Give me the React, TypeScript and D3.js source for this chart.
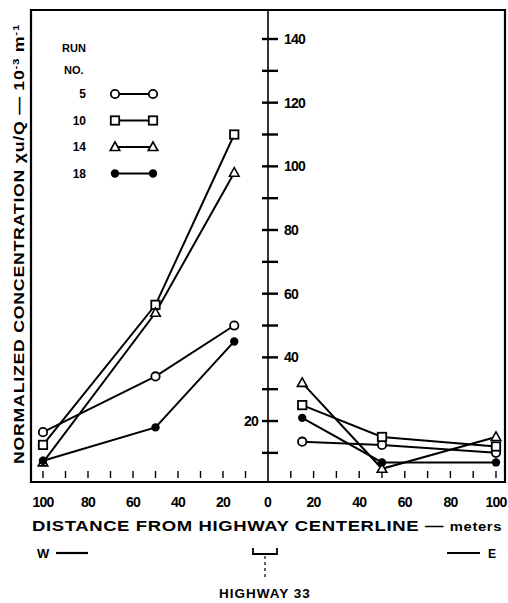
import * as d3 from "d3";

// distances from centerline (m) at which samples were taken
const westDistances = [100, 50, 15];
const eastDistances = [15, 50, 100];

// west side (left half), ordered as westDistances
const west5 = [16.5, 34, 50];
const west10 = [12.5, 56.5, 110];
const west14 = [7, 54, 98];
const west18 = [7.5, 18, 45];

// east side (right half), ordered as eastDistances
const east5 = [13.5, 12.5, 10];
const east10 = [25, 15, 12];
const east14 = [32, 5, 15];
const east18 = [21, 7, 7];

const runNames = ["5", "10", "14", "18"];
const markerKinds = ["circle", "square", "triangle", "dot"];

const xTickLabels = [100, 80, 60, 40, 20];
const xMinorTicks = [10, 20, 30, 40, 50, 60, 70, 80, 90, 100];
const yMajorTicks = [20, 40, 60, 80, 100, 120, 140];
const yMinorTicks = [10, 30, 50, 70, 90, 110, 130];

const W = 508;
const H = 603;
const frameLeft = 31;
const frameRight = 505;
const frameTop = 10;
const frameBottom = 482;
const center = 268;

const FONT = "'Liberation Sans', Arial, sans-serif";

function Marker({ kind, x, y }: { kind: string; x: number; y: number }) {
    if (kind === "circle") {
        return <circle cx={x} cy={y} r={4.2} fill="white" stroke="black" strokeWidth={1.8} />;
    }
    if (kind === "square") {
        return <rect x={x - 4.2} y={y - 4.2} width={8.4} height={8.4} fill="white" stroke="black" strokeWidth={1.8} />;
    }
    if (kind === "triangle") {
        return (
            <path
                d={`M${x},${y - 5} L${x + 4.8},${y + 3.5} L${x - 4.8},${y + 3.5} Z`}
                fill="white"
                stroke="black"
                strokeWidth={1.6}
            />
        );
    }
    return <circle cx={x} cy={y} r={4.2} fill="black" />;
}

export default function App() {
    const xWest = d3.scaleLinear([0, 100], [center, 43]);
    const xEast = d3.scaleLinear([0, 100], [center, 496]);
    const y = d3.scaleLinear([0, 140], [484.7, 39]);

    const westSeries = [west5, west10, west14, west18];
    const eastSeries = [east5, east10, east14, east18];

    const lineWest = d3.line<number>((_, i) => xWest(westDistances[i]), (d) => y(d));
    const lineEast = d3.line<number>((_, i) => xEast(eastDistances[i]), (d) => y(d));

    return (
        <svg
            width={W}
            height={H}
            style={{ position: "absolute", left: 0, top: 0, background: "white" }}
            fontFamily={FONT}
        >
            {/* frame */}
            <path
                d={`M${frameLeft},${frameBottom} L${frameLeft},${frameTop} L${frameRight},${frameTop} L${frameRight},${frameBottom} Z`}
                fill="none"
                stroke="black"
                strokeWidth={2.2}
            />

            {/* center axis */}
            <line x1={center} x2={center} y1={frameTop} y2={frameBottom} stroke="black" strokeWidth={1.6} />
            {yMajorTicks.concat(yMinorTicks).map((t) => (
                <line key={"t" + t} x1={center - 6} x2={center + 10} y1={y(t)} y2={y(t)} stroke="black" strokeWidth={2.4} />
            ))}
            {yMajorTicks.map((t) => (
                <text
                    key={"yl" + t}
                    x={t === 20 ? center - 10 : center + 16}
                    y={y(t)}
                    dy="0.36em"
                    textAnchor={t === 20 ? "end" : "start"}
                    fontSize={14}
                    fontWeight="bold"
                    letterSpacing={-0.8}
                >
                    {t}
                </text>
            ))}

            {/* bottom ticks */}
            {xMinorTicks.map((t) => (
                <g key={"xt" + t}>
                    <line x1={xWest(t)} x2={xWest(t)} y1={471} y2={478} stroke="black" strokeWidth={1.4} />
                    <line x1={xEast(t)} x2={xEast(t)} y1={471} y2={478} stroke="black" strokeWidth={1.4} />
                </g>
            ))}

            {/* bottom tick labels */}
            {xTickLabels.map((t) => (
                <g key={"xl" + t} fontSize={14} fontWeight="bold" textAnchor="middle" letterSpacing={-0.8}>
                    <text x={xWest(t)} y={507}>{t}</text>
                    <text x={xEast(t)} y={507}>{t}</text>
                </g>
            ))}
            <text x={center} y={507} fontSize={14} fontWeight="bold" textAnchor="middle">0</text>

            {/* x title */}
            <text x={32} y={531} fontSize={15} fontWeight="bold" textLength={470} lengthAdjust="spacingAndGlyphs" letterSpacing={0.5}>
                DISTANCE FROM HIGHWAY CENTERLINE — <tspan fontSize={12}>meters</tspan>
            </text>

            {/* W / E arrows */}
            <text x={37} y={558} fontSize={13} fontWeight="bold">W</text>
            <line x1={56} x2={88} y1={553} y2={553} stroke="black" strokeWidth={2.2} />
            <line x1={447} x2={480} y1={553} y2={553} stroke="black" strokeWidth={2.2} />
            <text x={488} y={558} fontSize={12} fontWeight="bold">E</text>

            {/* highway bracket */}
            <path d={`M${center - 15},548 L${center - 15},554 L${center + 9},554 L${center + 9},548`} fill="none" stroke="black" strokeWidth={1.8} />
            <line x1={center - 3} x2={center - 3} y1={556} y2={577} stroke="black" strokeWidth={1.2} strokeDasharray="3,3" />
            <text x={center - 3} y={598} fontSize={13.5} fontWeight="bold" textAnchor="middle" letterSpacing={1}>
                HIGHWAY 33
            </text>

            {/* y title */}
            <text
                transform={`translate(24,244) rotate(-90)`}
                textAnchor="middle"
                fontSize={14}
                fontWeight="bold"
                textLength={440}
                lengthAdjust="spacingAndGlyphs"
                letterSpacing={0.6}
            >
                NORMALIZED CONCENTRATION  χu/Q  —  10<tspan fontSize={9} dy={-5}>-3</tspan>
                <tspan dy={5}> m</tspan>
                <tspan fontSize={9} dy={-5}>-1</tspan>
            </text>

            {/* legend */}
            <g fontSize={11} fontWeight="bold">
                <text x={62} y={52}>RUN</text>
                <text x={64} y={74}>NO.</text>
            </g>
            {runNames.map((r, i) => {
                const ly = 94 + i * 26.5;
                return (
                    <g key={"lg" + r}>
                        <text x={86} y={ly} dy="0.35em" textAnchor="end" fontSize={12} fontWeight="bold">{r}</text>
                        <line x1={115} x2={153} y1={ly} y2={ly} stroke="black" strokeWidth={2.2} />
                        <Marker kind={markerKinds[i]} x={115} y={ly} />
                        <Marker kind={markerKinds[i]} x={153} y={ly} />
                    </g>
                );
            })}

            {/* data lines */}
            {westSeries.map((s, i) => (
                <path key={"wl" + i} d={lineWest(s) || undefined} fill="none" stroke="black" strokeWidth={2} />
            ))}
            {eastSeries.map((s, i) => (
                <path key={"el" + i} d={lineEast(s) || undefined} fill="none" stroke="black" strokeWidth={2} />
            ))}
            {westSeries.map((s, i) =>
                s.map((v, j) => <Marker key={`wm${i}-${j}`} kind={markerKinds[i]} x={xWest(westDistances[j])} y={y(v)} />)
            )}
            {eastSeries.map((s, i) =>
                s.map((v, j) => <Marker key={`em${i}-${j}`} kind={markerKinds[i]} x={xEast(eastDistances[j])} y={y(v)} />)
            )}
        </svg>
    );
}
